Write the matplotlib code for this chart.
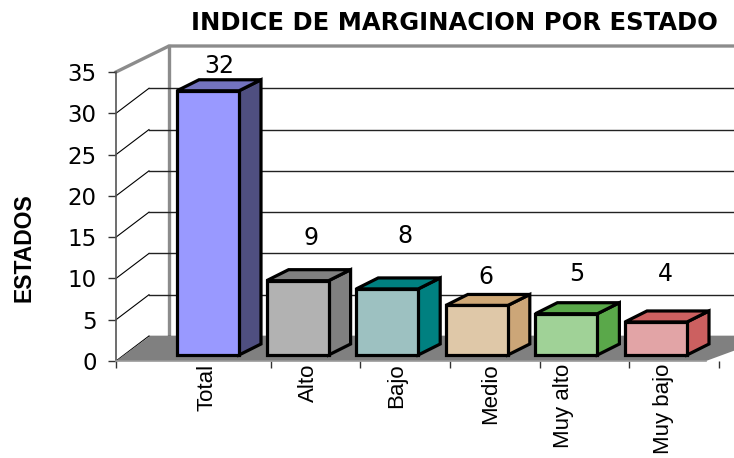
"""Indice de marginacion por estado: Excel style 3D column chart."""

import matplotlib

matplotlib.use("Agg")
import matplotlib.pyplot as plt
import numpy as np

categories = ["Total", "Alto", "Bajo", "Medio", "Muy alto", "Muy bajo"]
values = [32, 9, 8, 6, 5, 4]
y_ticks = [0, 5, 10, 15, 20, 25, 30, 35]

front_colors = ["#9999FF", "#B2B2B2", "#9DC1C1", "#DFC8A8", "#A0D297", "#E2A4A6"]
side_colors = ["#4F4F80", "#808080", "#008080", "#CCA678", "#5AA84A", "#CC6060"]
top_colors = ["#7373BF", "#808080", "#008080", "#CFA876", "#5AA84A", "#CC6060"]

# the labels in the original were dragged around by hand
label_lift = [25, 43, 53, 28, 40, 48]
label_shift = [0.13, 0.15, 0.2, 0.1, 0.12, 0.1]
cat_shift = [-0.01, 0.12, 0.11, 0.15, -0.03, 0.08]

W, H = 734, 458
LEFT, RIGHT, TOP, BOTTOM = 116, 720, 72, 361
PX_X = 89.6
PX_Y = (BOTTOM - TOP) / 35
X0 = 208

fig = plt.figure(figsize=(W / 100, H / 100), dpi=100)
ax = fig.add_axes([LEFT / W, 1 - BOTTOM / H, (RIGHT - LEFT) / W, (BOTTOM - TOP) / H])
xmin, xmax = (LEFT - X0) / PX_X, (RIGHT - X0) / PX_X
ax.set_xlim(xmin, xmax)
ax.set_ylim(0, 35)
ax.patch.set_visible(False)


def depth(x, y, dx, dy):
    # shift a data point by a pixel offset, for the fake perspective
    return x + dx / PX_X, y + dy / PX_Y


fig_right = (W + 40 - X0) / PX_X
floor_right = (706 - X0) / PX_X

# walls
wx, wy = depth(xmin, 35, 53, 26)
ax.plot([xmin, wx, fig_right], [35, wy, wy], color="#8C8C8C", lw=2.4, clip_on=False, zorder=1)
ax.plot([wx, wx], [depth(0, 0, 0, 26)[1], wy], color="#8C8C8C", lw=2.4, clip_on=False, zorder=1)

# gridlines run up the side wall then along the back
for v in y_ticks[:-1]:
    gx, gy = depth(xmin, v, 33, 25)
    ax.plot([xmin, gx], [v, gy], color="black", lw=0.8, clip_on=False, zorder=2)
    ax.plot([gx, fig_right], [gy, gy], color="#222222", lw=1.0, clip_on=False, zorder=2)

# floor
bx, by = depth(xmin, 0, 34, 25)
ax.fill(
    [xmin, bx, fig_right, floor_right],
    [0, by, by, 0],
    facecolor="#808080",
    edgecolor="none",
    clip_on=False,
    zorder=3,
)

# bars
x = np.arange(len(categories))
bar_w = 62 / PX_X
base = 6 / PX_Y
for i, val in enumerate(values):
    l, r = x[i] - bar_w / 2, x[i] + bar_w / 2
    t = base + val
    style = dict(edgecolor="black", lw=2.3, joinstyle="miter", clip_on=False, zorder=4)
    rb, tb = depth(r, t, 22, 11)
    lb = depth(l, t, 22, 11)[0]
    ax.fill([r, rb, rb, r], [base, depth(r, base, 22, 11)[1], tb, t], facecolor=side_colors[i], **style)
    ax.fill([l, lb, rb, r], [t, tb, tb, t], facecolor=top_colors[i], **style)
    ax.bar(x[i], val, bar_w, bottom=base, color=front_colors[i], edgecolor="black", lw=2.3, zorder=5, clip_on=False)
    ax.text(
        x[i] + label_shift[i],
        t + label_lift[i] / PX_Y,
        str(val),
        ha="center",
        va="center",
        fontsize=17,
        family="DejaVu Sans",
        zorder=6,
    )

# axes
for side in ["top", "right"]:
    ax.spines[side].set_visible(False)
ax.spines["left"].set_color("#555555")
ax.spines["left"].set_linewidth(1.2)
ax.spines["bottom"].set_color("#999999")
ax.spines["bottom"].set_linewidth(1.2)
ax.spines["bottom"].set_bounds(xmin, floor_right)
ax.spines["left"].set_zorder(2)
ax.spines["bottom"].set_zorder(6)

ax.set_yticks(y_ticks)
ax.tick_params(axis="y", length=6, width=1.0, color="#333333", pad=8, labelsize=16.5)
for lab in ax.get_yticklabels():
    lab.set_family("DejaVu Sans")

ax.set_xticks([xmin] + list(x + 0.7))
ax.set_xticklabels([])
ax.tick_params(axis="x", which="major", length=5, width=1.0, color="#333333")
ax.set_xticks(x + np.array(cat_shift), minor=True)
ax.set_xticklabels(categories, minor=True, rotation=90, fontsize=16)
ax.tick_params(axis="x", which="minor", length=0, pad=2)
for lab in ax.get_xticklabels(minor=True):
    lab.set_family("Liberation Sans")

fig.text(24 / W, 1 - 248 / H, "ESTADOS", rotation=90, ha="center", va="center",
         fontsize=16.5, fontweight="bold", family="Liberation Sans")
fig.text(454 / W, 1 - 23 / H, "INDICE DE MARGINACION POR ESTADO", ha="center", va="center",
         fontsize=17.5, fontweight="bold", family="DejaVu Sans")

fig.savefig("out.png", dpi=100)
